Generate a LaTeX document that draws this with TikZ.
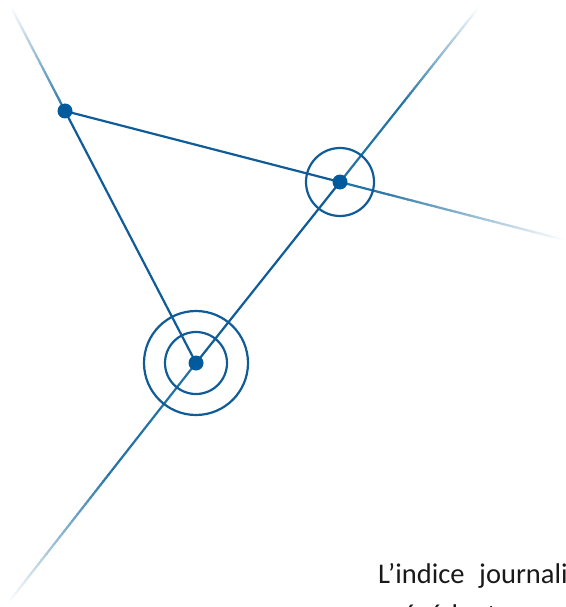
\documentclass[tikz,border=0pt]{standalone}
\usepackage{fontspec}
\setmainfont{Carlito}
\usetikzlibrary{calc}
\definecolor{mainblue}{RGB}{0,90,155}
\definecolor{lineblue}{RGB}{15,92,152}
\definecolor{fadeblue}{RGB}{35,115,165}
\tikzset{
  dotnode/.style={circle, fill=mainblue, inner sep=0pt, minimum size=15pt},
  link/.style={draw=lineblue, line width=2.2pt},
  ring/.style={draw=lineblue, line width=2.2pt},
  txt/.style={anchor=base west, inner sep=0pt, text=black!90, font=\fontsize{28.5}{34}\selectfont}
}
\newcommand{\fadeline}[3]{%
  \draw[line width=2.2pt, color=fadeblue] (#1) -- ($(#1)!#3!(#2)$);
  \foreach \i in {1,...,40} {
    \pgfmathsetmacro\ta{#3+(1-#3)*(\i-1)/40}
    \pgfmathsetmacro\tb{#3+(1-#3)*\i/40+0.004}
    \pgfmathsetmacro\pc{100*(1-(\i-0.5)/40)}
    \draw[line width=2.2pt, color=fadeblue!\pc!white] ($(#1)!\ta!(#2)$) -- ($(#1)!\tb!(#2)$);
  }
}
\begin{document}
\begin{tikzpicture}[x=1pt,y=-1pt]
  \useasboundingbox (0,0) rectangle (565,607);
  \clip (0,0) rectangle (565,607);
  % points
  \coordinate (A) at (65,111);
  \coordinate (B) at (340,182);
  \coordinate (C) at (196,363);
  \coordinate (E1) at (11,7);
  \coordinate (E2) at (565,240);
  \coordinate (E3) at (479,7);
  \coordinate (E4) at (8,603);
  % fading ends
  \fadeline{A}{E1}{0}
  \fadeline{B}{E2}{0.15}
  \fadeline{B}{E3}{0.45}
  \fadeline{C}{E4}{0.45}
  % solid links
  \draw[link] (A) -- (B);
  \draw[link] (A) -- (C);
  \draw[link] (C) -- (B);
  % rings
  \draw[ring] (B) circle[radius=34];
  \draw[ring] (C) circle[radius=31];
  \draw[ring] (C) circle[radius=52];
  % dots
  \node[dotnode] (dA) at (A) {};
  \node[dotnode] (dB) at (B) {};
  \node[dotnode] (dC) at (C) {};
  % text
  \node[txt] (t1) at (378,583) {L’indice};
  \node[txt] (t2) at (479,583) {journalier};
  \node[txt] (t3) at (378,624) {précédent};
\end{tikzpicture}
\end{document}
